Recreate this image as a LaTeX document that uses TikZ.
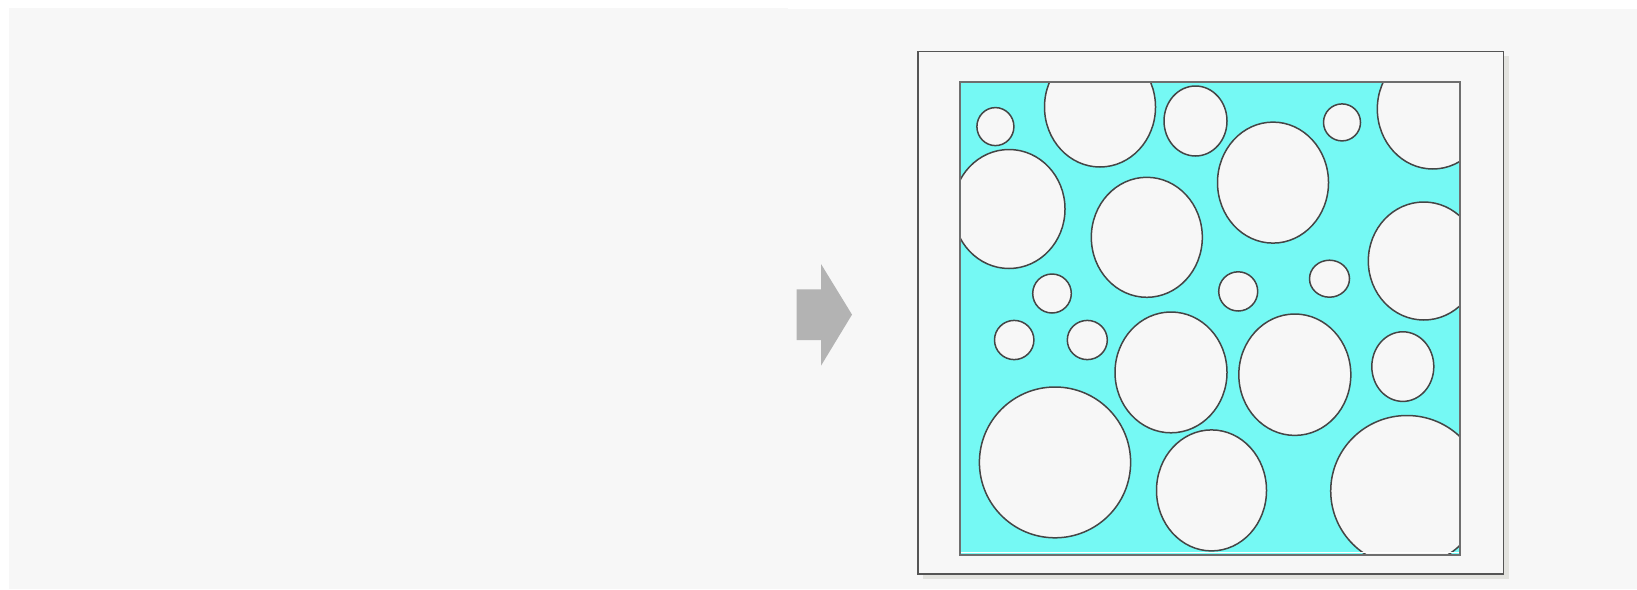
\documentclass[tikz,border=0pt]{standalone}
\definecolor{bggray}{HTML}{F7F7F7}
\definecolor{arrowgray}{HTML}{B3B3B3}
\definecolor{shadowgray}{HTML}{E3E3DF}
\definecolor{poreline}{HTML}{454545}
\definecolor{framegray}{HTML}{555555}
\definecolor{innergray}{HTML}{6E6E6E}
\definecolor{matrixcyan}{HTML}{75F9F4}
\tikzset{
  pore/.style={fill=bggray, draw=poreline, line width=1.5pt},
  outerframe/.style={fill=bggray, draw=framegray, line width=1.8pt},
  innerframe/.style={draw=innergray, line width=2pt},
  bigarrow/.style={fill=arrowgray, draw=none},
}
\begin{document}
\begin{tikzpicture}[x=1pt, y=-1pt]
\useasboundingbox (0,0) rectangle (1637,589);
\fill[white] (0,0) rectangle (1637,589);
\fill[bggray] (9,8) rectangle (788,589);
\fill[bggray] (788,9) rectangle (1637,589);
% arrow
\fill[bigarrow] (796.7,289.3) -- (821,289.3) -- (821,264) -- (852,314.6)
  -- (821,365.7) -- (821,340) -- (796.7,340) -- cycle;
% frame shadow and frame
\fill[shadowgray] (923,56) rectangle (1509,579);
\draw[outerframe] (918,51.5) rectangle (1503.5,573.8);
% matrix
\coordinate (innerNW) at (959.5,82);
\coordinate (innerSE) at (1459.5,554.5);
\fill[matrixcyan] (innerNW) rectangle (innerSE);
\begin{scope}
\clip (innerNW) rectangle (innerSE);
\foreach \cx/\cy/\rx/\ry in {
  995.4/126.6/18.5/19,
  1100/107/55.5/60,
  1195.5/121/31.5/35,
  1342/122.4/18.5/18.5,
  1432.8/109/55.5/60,
  1009/209/56/59.5,
  1146.8/237.3/55.5/60,
  1273/182.6/55.5/60.5,
  1423.8/261/55.5/59,
  1052/293.5/19.3/19.5,
  1238.2/291.4/19.5/19.6,
  1329.5/278.7/20/18.5,
  1014.2/340/19.7/19.6,
  1087.3/340/20/19.6,
  1171/372.4/56/60.4,
  1294.8/374.7/56/60.7,
  1402.8/366.6/31/34.8,
  1055/462.4/75.6/75.4,
  1211.5/490.4/55/60.5,
  1407/491/76.3/75.5}
  \draw[pore] (\cx,\cy) ellipse [x radius=\rx pt, y radius=\ry pt];
\draw[white, line width=1.6pt] (959.5,552.5) -- (1459.5,552.5);
\end{scope}
\draw[innerframe] (innerNW) rectangle (innerSE);
\end{tikzpicture}
\end{document}
